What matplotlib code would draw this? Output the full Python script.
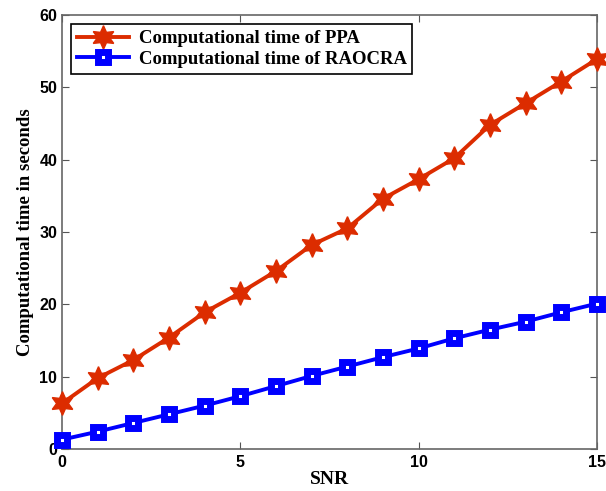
import matplotlib
matplotlib.use("Agg")
import matplotlib.pyplot as plt

snr = list(range(16))
ppa_time = [6.3, 9.8, 12.3, 15.4, 18.9, 21.6, 24.6, 28.2, 30.5, 34.6,
            37.3, 40.2, 44.8, 47.8, 50.8, 53.9]
raocra_time = [1.3, 2.4, 3.6, 4.8, 6.0, 7.3, 8.7, 10.1, 11.4, 12.7,
               13.9, 15.3, 16.5, 17.6, 18.9, 20.1]

serif_bold = dict(family="Liberation Serif", weight="bold")

fig = plt.figure(figsize=(6.06, 4.91), dpi=100)
ax = fig.add_axes([0.1023, 0.0855, 0.8827, 0.884])

# hexagram-like star, point up
ax.plot(snr, ppa_time, color="#DC2C00", lw=2.8, marker=(6, 1, 0), ms=17,
        clip_on=False, zorder=3, label="Computational time of PPA")
ax.plot(snr, raocra_time, color="#0000FF", lw=2.8, marker="s", ms=6.5,
        mfc="white", mec="#0000FF", mew=5, clip_on=False, zorder=3,
        label="Computational time of RAOCRA")

ax.set_xlim(0, 15)
ax.set_ylim(0, 60)
ax.set_xticks([0, 5, 10, 15])
ax.set_yticks([0, 10, 20, 30, 40, 50, 60])
ax.tick_params(direction="in", top=True, right=True, length=5, colors="#555555",
               labelcolor="black", labelsize=11.5)
ax.tick_params(axis="x", pad=4)
for lab in ax.get_xticklabels() + ax.get_yticklabels():
    lab.set_fontweight("bold")
    lab.set_family("Liberation Sans")
for s in ax.spines.values():
    s.set_color("#666666")
    s.set_linewidth(1.2)

ax.set_xlabel("SNR", fontsize=14, labelpad=1, **serif_bold)
ax.set_ylabel("Computational time in seconds", fontsize=13.5, labelpad=4, **serif_bold)

leg = ax.legend(loc="upper left", prop=dict(family="Liberation Serif", weight="bold", size=13.5),
                fancybox=False, edgecolor="black", framealpha=1, handlelength=2.8,
                borderpad=0.3, labelspacing=0.2, borderaxespad=0.5, handletextpad=0.5)
leg.get_frame().set_linewidth(1.2)

fig.savefig("out.png", dpi=100)
